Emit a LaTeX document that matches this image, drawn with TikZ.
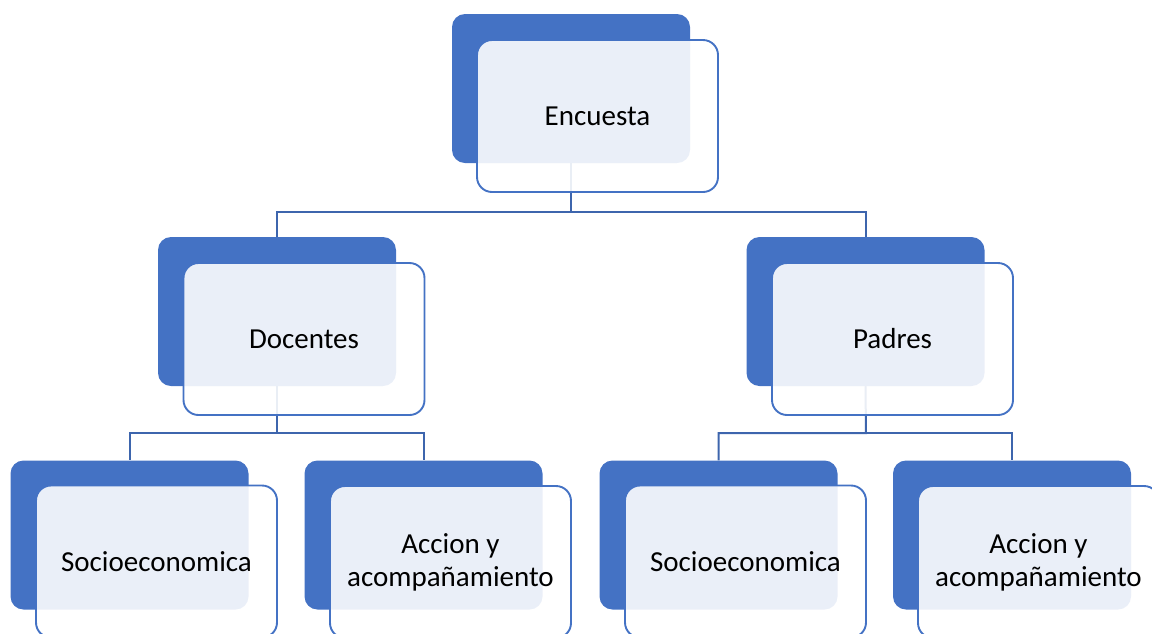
\documentclass[tikz,border=0pt]{standalone}
\usepackage{fontspec}
\setmainfont{Carlito}
\definecolor{accent}{HTML}{4472C4}
\definecolor{linec}{HTML}{3D65AD}
\begin{document}
\begin{tikzpicture}[x=1pt,y=-1pt,
  back/.style={fill=accent,draw=none,rounded corners=13pt,minimum width=238pt,minimum height=149pt,inner sep=0pt},
  front/.style={draw=accent,line width=1.9pt,fill=white,fill opacity=0.89,text opacity=1,rounded corners=15pt,minimum width=241pt,minimum height=152pt,inner sep=0pt,align=center,font=\fontsize{29}{33}\selectfont},
  conn/.style={draw=linec,line width=2pt}]
\useasboundingbox (0,0) rectangle (1152,633);
% connector junctions
\coordinate (j1) at (571,212);
\coordinate (j2) at (277,433);
\coordinate (j3) at (866,433);
% back shapes
\node[back] (b1) at (571,88.5) {};
\node[back] (b2) at (277,311.5) {};
\node[back] (b3) at (865.5,311.5) {};
\node[back] (b4) at (129.5,535) {};
\node[back] (b5) at (423.5,535) {};
\node[back] (b6) at (718.5,535) {};
\node[back] (b7) at (1012,535) {};
% connectors
\draw[conn] (b1.south) -- (j1) -| (b2.north);
\draw[conn] (j1) -| (b3.north);
\draw[conn] (b2.south) -- (j2) -| (b4.north);
\draw[conn] (j2) -| (b5.north);
\draw[conn] (b3.south) -- (j3) -| (b6.north);
\draw[conn] (j3) -| (b7.north);
% front shapes
\node[front] (f1) at (597.5,116) {Encuesta};
\node[front] (f2) at (304,339) {Docentes};
\node[front] (f3) at (892.5,339) {Padres};
\node[front] (f4) at (156.5,561.5) {Socioeconomica};
\node[front] (f5) at (450.5,562) {Accion y\\acompañamiento};
\node[front] (f6) at (745.5,561.5) {Socioeconomica};
\node[front] (f7) at (1038.5,562) {Accion y\\acompañamiento};
\end{tikzpicture}
\end{document}
